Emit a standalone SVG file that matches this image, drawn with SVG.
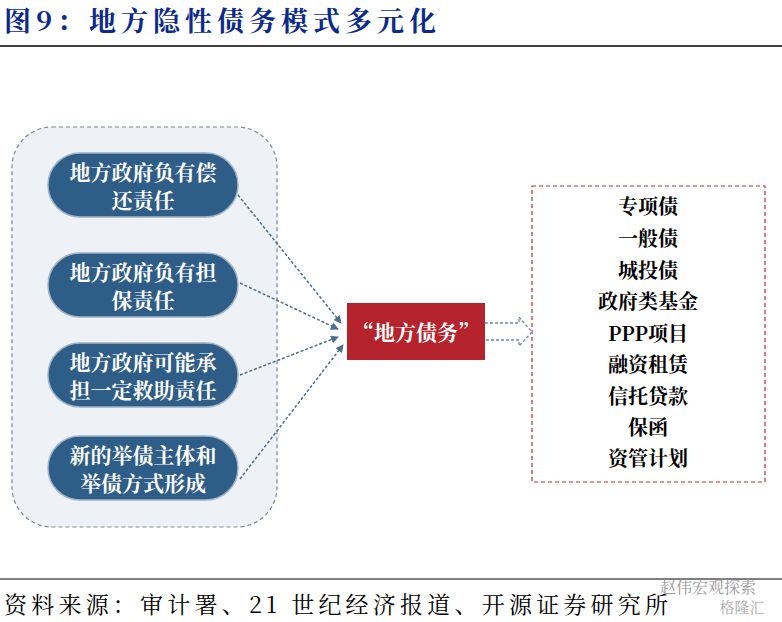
<svg xmlns="http://www.w3.org/2000/svg" width="782" height="622" viewBox="0 0 782 622">
<style>
.cj{font-family:"Noto Serif CJK SC","Noto Sans CJK SC",serif}
.pill{fill:#2e5d87;stroke:#9fb3c6;stroke-width:1.5}
.pt{fill:#fff;font-size:21px;font-weight:bold;text-anchor:middle}
.lst{fill:#000;font-size:20px;font-weight:bold;text-anchor:middle}
.con{stroke:#4a6f8f;stroke-width:1.5;stroke-dasharray:3,2;fill:none;marker-end:url(#ah)}
</style>
<defs><marker id="ah" markerWidth="8" markerHeight="8" refX="7" refY="4" orient="auto" markerUnits="userSpaceOnUse"><path d="M0,0 L8,4 L0,8 Z" fill="#4a6f8f"/></marker></defs>
<rect width="782" height="622" fill="#fff"/>
<text x="4" y="31" class="cj" font-size="27" font-weight="bold" fill="#0b2a8c" textLength="432" lengthAdjust="spacing">图9：地方隐性债务模式多元化</text>
<line x1="0" y1="46" x2="782" y2="46" stroke="#000" stroke-width="1.5"/>
<g id="container"><rect x="12" y="127" width="265" height="400" rx="40" fill="#eef1f6" stroke="#7a8a99" stroke-width="1.2" stroke-dasharray="4,3"/></g>
<g id="n1"><rect class="pill" x="48" y="153" width="190" height="64" rx="32"/><text class="cj pt" x="143" y="180">地方政府负有偿</text><text class="cj pt" x="143" y="208">还责任</text></g>
<g id="n2"><rect class="pill" x="48" y="253" width="190" height="64" rx="32"/><text class="cj pt" x="143" y="280">地方政府负有担</text><text class="cj pt" x="143" y="308">保责任</text></g>
<g id="n3"><rect class="pill" x="48" y="343" width="190" height="64" rx="32"/><text class="cj pt" x="143" y="370">地方政府可能承</text><text class="cj pt" x="143" y="398">担一定救助责任</text></g>
<g id="n4"><rect class="pill" x="48" y="436" width="190" height="64" rx="32"/><text class="cj pt" x="143" y="463">新的举债主体和</text><text class="cj pt" x="143" y="491">举债方式形成</text></g>
<g id="center"><rect x="347" y="303" width="138" height="57" fill="#b5242c"/><text class="cj pt" x="416" y="340">“地方债务”</text></g>
<g id="list"><rect x="532" y="186" width="233" height="296" fill="#fff" stroke="#c0282d" stroke-width="1.2" stroke-dasharray="4,3"/>
<text class="cj lst" x="648" y="214">专项债</text>
<text class="cj lst" x="648" y="246">一般债</text>
<text class="cj lst" x="648" y="278">城投债</text>
<text class="cj lst" x="648" y="309">政府类基金</text>
<text class="cj lst" x="648" y="341">PPP项目</text>
<text class="cj lst" x="648" y="372">融资租赁</text>
<text class="cj lst" x="648" y="404">信托贷款</text>
<text class="cj lst" x="648" y="435">保函</text>
<text class="cj lst" x="648" y="466">资管计划</text></g>
<g id="connectors">
<path class="con" d="M238,195 L341,323"/>
<path class="con" d="M240,283 L338,329"/>
<path class="con" d="M240,375 L338,337"/>
<path class="con" d="M240,479 L343,345"/>
<path d="M485,323 L519,323 L519,317 L532,332 L519,346 L519,340 L485,340" fill="#fff" stroke="#6b8aa6" stroke-width="1.3" stroke-dasharray="3,2"/>
</g>
<line x1="0" y1="579" x2="782" y2="579" stroke="#000" stroke-width="1.2"/>
<text x="4" y="613" class="cj" font-size="23" fill="#000" textLength="664" lengthAdjust="spacing">资料来源：审计署、21 世纪经济报道、开源证券研究所</text>
<text x="708" y="593" class="cj" font-size="16" fill="#999" text-anchor="middle">赵伟宏观探索</text>
<text x="742" y="613" class="cj" font-size="15" fill="#aaa" text-anchor="middle">格隆汇</text>
</svg>
